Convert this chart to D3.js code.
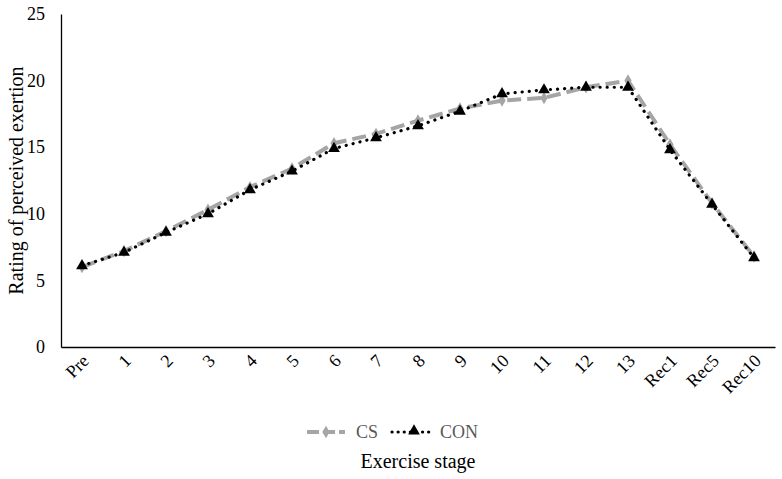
<!DOCTYPE html>
<html>
<head>
<meta charset="utf-8">
<script src="https://cdn.jsdelivr.net/npm/d3@7"></script>
<style>
  body { margin: 0; background: #fff; }
  text { font-family: "Liberation Serif", "DejaVu Serif", serif; }
</style>
</head>
<body>
<svg width="782" height="479"></svg>
<script>
const stages = ["Pre", "1", "2", "3", "4", "5", "6", "7", "8", "9", "10", "11", "12", "13", "Rec1", "Rec5", "Rec10"];
const csValues = [6.0, 7.2, 8.7, 10.3, 12.0, 13.4, 15.3, 16.0, 17.0, 17.9, 18.5, 18.7, 19.5, 20.0, 15.2, 10.8, 6.8];
const conValues = [6.1, 7.1, 8.6, 10.0, 11.8, 13.2, 14.9, 15.7, 16.6, 17.7, 19.0, 19.3, 19.5, 19.5, 14.8, 10.7, 6.7];
const yTicks = [0, 5, 10, 15, 20, 25];

const svg = d3.select("svg");
const margin = { left: 61, right: 7, top: 14, bottom: 132 };
const width = +svg.attr("width");
const height = +svg.attr("height");

const x = d3.scaleBand()
    .domain(stages)
    .range([margin.left, width - margin.right]);

const y = d3.scaleLinear()
    .domain([0, 25])
    .range([height - margin.bottom, margin.top]);

// axes
const yAxis = svg.append("g")
    .attr("transform", `translate(${margin.left},0)`)
    .call(d3.axisLeft(y).tickValues(yTicks).tickSize(0).tickPadding(16));
yAxis.select(".domain").attr("stroke", "#000").attr("stroke-width", 1.3);
yAxis.selectAll("text").attr("font-size", 18).attr("fill", "#000")
    .attr("font-family", "Liberation Serif, serif");

const xAxis = svg.append("g")
    .attr("transform", `translate(0,${y(0)})`)
    .call(d3.axisBottom(x).tickSize(0).tickPadding(0));
xAxis.select(".domain").attr("stroke", "#000").attr("stroke-width", 1.3);
xAxis.selectAll("text")
    .attr("font-size", 18).attr("fill", "#000")
    .attr("font-family", "Liberation Serif, serif")
    .attr("text-anchor", "end")
    .attr("dy", 0)
    .attr("transform", "translate(8,15) rotate(-45)");

// series
const line = d3.line()
    .x((d, i) => x(stages[i]) + x.bandwidth() / 2)
    .y(d => y(d));

svg.append("path")
    .datum(csValues)
    .attr("fill", "none")
    .attr("stroke", "#a5a5a5")
    .attr("stroke-width", 4)
    .attr("stroke-dasharray", "14 6")
    .attr("d", line);

svg.append("g").selectAll("path")
    .data(csValues)
    .join("path")
    .attr("d", d3.symbol(d3.symbolDiamond, 45))
    .attr("fill", "#a5a5a5")
    .attr("transform", (d, i) => `translate(${x(stages[i]) + x.bandwidth() / 2},${y(d)})`);

svg.append("path")
    .datum(conValues)
    .attr("fill", "none")
    .attr("stroke", "#000")
    .attr("stroke-width", 3.2)
    .attr("stroke-linecap", "round")
    .attr("stroke-dasharray", "0.1 7")
    .attr("d", line);

svg.append("g").selectAll("path")
    .data(conValues)
    .join("path")
    .attr("d", d3.symbol(d3.symbolTriangle, 60))
    .attr("fill", "#000")
    .attr("transform", (d, i) => `translate(${x(stages[i]) + x.bandwidth() / 2},${y(d)})`);

// legend
const legend = svg.append("g").attr("transform", "translate(0,432)");
legend.append("line")
    .attr("x1", 307).attr("x2", 345).attr("y1", 0).attr("y2", 0)
    .attr("stroke", "#a5a5a5").attr("stroke-width", 4).attr("stroke-dasharray", "12 4");
legend.append("path")
    .attr("d", d3.symbol(d3.symbolDiamond, 45))
    .attr("fill", "#a5a5a5")
    .attr("transform", "translate(326,0)");
legend.append("text")
    .attr("x", 356).attr("y", 6)
    .attr("font-size", 18).attr("fill", "#595959")
    .text("CS");
legend.append("line")
    .attr("x1", 392).attr("x2", 432).attr("y1", 0).attr("y2", 0)
    .attr("stroke", "#000").attr("stroke-width", 3.2)
    .attr("stroke-linecap", "round").attr("stroke-dasharray", "0.1 6");
legend.append("path")
    .attr("d", d3.symbol(d3.symbolTriangle, 60))
    .attr("fill", "#000")
    .attr("transform", "translate(414,-1)");
legend.append("text")
    .attr("x", 440).attr("y", 6)
    .attr("font-size", 18).attr("fill", "#595959")
    .text("CON");

// axis titles
svg.append("text")
    .attr("x", (margin.left + width - margin.right) / 2).attr("y", 468)
    .attr("text-anchor", "middle")
    .attr("font-size", 20).attr("fill", "#000")
    .text("Exercise stage");

svg.append("text")
    .attr("transform", `translate(23,${(y(0) + y(25)) / 2}) rotate(-90)`)
    .attr("text-anchor", "middle")
    .attr("font-size", 20).attr("fill", "#000")
    .text("Rating of perceived exertion");
</script>
</body>
</html>
